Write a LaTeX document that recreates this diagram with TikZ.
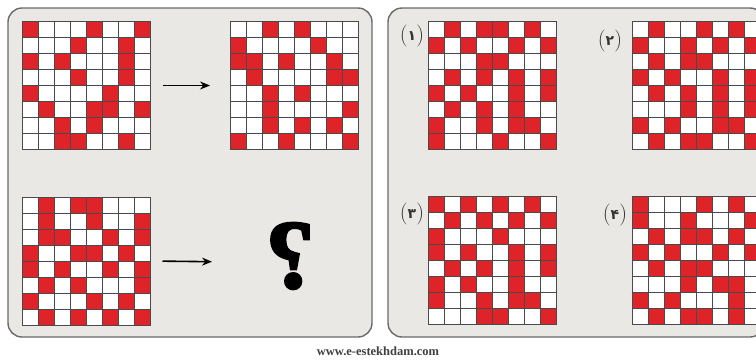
\documentclass[tikz,border=0pt]{standalone}
\usepackage{fontspec}
\newfontfamily\arabicfont[Script=Arabic]{DejaVu Sans}
\newfontfamily\footfont{Liberation Serif}
\newfontfamily\qfont[FakeBold=2.5]{Liberation Serif}
\usetikzlibrary{arrows.meta}
\definecolor{panelfill}{HTML}{EAE8E5}
\definecolor{panelline}{HTML}{6A6A6A}
\definecolor{cellred}{HTML}{DF2429}
\definecolor{gridcol}{HTML}{4A4A4A}
\tikzset{
  panel/.style={draw=panelline,line width=1.4pt,fill=panelfill,rounded corners=14pt},
  gridbox/.style={draw=none,fill=white,minimum size=128pt,inner sep=0pt,outer sep=0pt},
  gridline/.style={draw=gridcol,line width=0.6pt},
  redcell/.style={fill=cellred},
  puzzlearrow/.style={-{Stealth[length=10pt,width=8pt]},line width=1.6pt,black},
  optlabel/.style={font=\fontsize{22}{22}\selectfont,text=black!80,inner sep=0pt},
}
\newcommand\optdigit[1]{\raisebox{1pt}{\arabicfont\bfseries\fontsize{14}{14}\selectfont #1}}
\newcommand\puzzlegrid[4]{%
  \node[gridbox] (#1) at ({#2+64},{#3+64}) {};
  \foreach \c/\r in {#4} {\fill[redcell] ({#2+(\c-1)*16},{#3+(\r-1)*16}) rectangle ++(16,16);}
  \foreach \k in {1,...,7} {\draw[gridline] ({#2+\k*16},#3) -- ++(0,128);
                            \draw[gridline] (#2,{#3+\k*16}) -- ++(128,0);}
  \draw[gridline,line width=0.9pt] (#1.north west) rectangle (#1.south east);
}
\begin{document}
\begin{tikzpicture}[x=1pt,y=-1pt]
\useasboundingbox (0,0) rectangle (756,362);
\fill[white] (0,0) rectangle (756,362);
% panels
\draw[panel] (8,8) rectangle (372,337);
\draw[panel] (388,8) rectangle (764,337);
% question grids
\puzzlegrid{gA}{22.5}{21.5}{1/1,5/1,8/1, 4/2,7/2, 1/3,3/3,7/3, 4/4,7/4, 1/5,6/5, 2/6,5/6,6/6,8/6, 3/7,5/7, 3/8,4/8,7/8}
\puzzlegrid{gB}{230}{21.5}{3/1,5/1, 1/2,6/2, 1/3,2/3,4/3,7/3, 2/4,7/4,8/4, 3/5,5/5, 3/6,8/6, 3/7,5/7,7/7, 1/8,4/8,8/8}
\puzzlegrid{gC}{22.5}{197}{2/1,4/1,5/1, 2/2,5/2,8/2, 2/3,3/3,6/3,8/3, 1/4,4/4,5/4,7/4, 1/5,3/5,6/5,8/5, 2/6,4/6,8/6, 1/7,5/7,7/7, 2/8,4/8,6/8,8/8}
% option grids
\puzzlegrid{o1}{428}{21.5}{2/1,4/1,5/1,7/1, 1/2,3/2,6/2,8/2, 4/3,5/3, 2/4,4/4,6/4,8/4, 1/5,3/5,6/5,8/5, 2/6,4/6,6/6, 1/7,4/7,6/7,7/7, 1/8,5/8,8/8}
\puzzlegrid{o2}{632}{21.5}{2/1,5/1,7/1, 1/2,4/2,6/2,8/2, 2/3,4/3,5/3, 1/4,3/4,6/4,8/4, 2/5,4/5,6/5,8/5, 4/6,6/6,8/6, 1/7,3/7,6/7,7/7, 2/8,4/8,5/8,8/8}
\puzzlegrid{o3}{428}{196}{1/1,3/1,5/1,7/1, 2/2,4/2,6/2,8/2, 1/3,5/3, 1/4,3/4,6/4,8/4, 2/5,4/5,6/5,8/5, 1/6,3/6,6/6, 1/7,4/7,6/7,7/7, 4/8,5/8,8/8}
\puzzlegrid{o4}{632}{196}{1/1,5/1,7/1, 1/2,4/2,8/2, 2/3,4/3,5/3,7/3, 1/4,3/4,6/4,8/4, 2/5,4/5,5/5, 4/6,6/6,7/6, 1/7,3/7,7/7, 2/8,4/8,5/8,7/8}
% question mark
\node[font=\qfont\bfseries\fontsize{98}{98}\selectfont,inner sep=0pt] (qm) at (290,256) {\reflectbox{?}};
% arrows
\draw[puzzlearrow,shorten <=12pt,shorten >=20pt] (gA.east) -- (gB.west);
\coordinate (qin) at (236,262);
\draw[puzzlearrow,shorten <=12pt,shorten >=24pt] (gC.east) -- (qin);
% option labels
\node[optlabel] (l1) at (412,36) {(\optdigit{۱})};
\node[optlabel] (l2) at (610,41) {(\optdigit{۲})};
\node[optlabel] (l3) at (412,214) {(\optdigit{۳})};
\node[optlabel] (l4) at (615,215) {(\optdigit{۴})};
% footer
\node[font=\footfont\bfseries\fontsize{12.5}{12.5}\selectfont,text=black!75,inner sep=0pt] (foot) at (378,351.5) {www.e-estekhdam.com};
\end{tikzpicture}
\end{document}
